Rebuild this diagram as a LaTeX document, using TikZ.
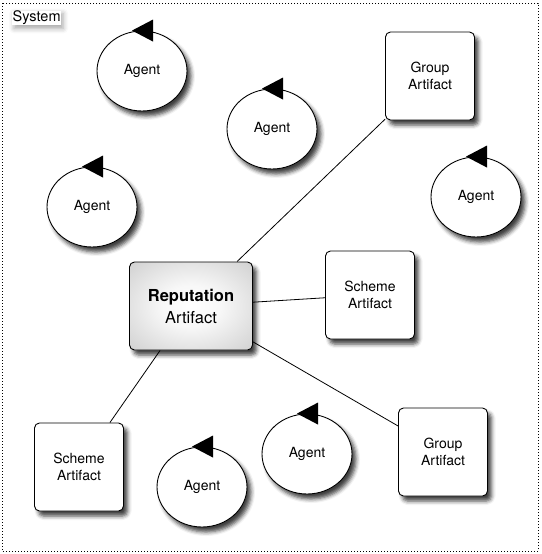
\documentclass[tikz,border=0pt]{standalone}
\usepackage{fontspec}
\setmainfont{TeX Gyre Heros}
\usetikzlibrary{shapes.geometric,shadows.blur}

\pgfdeclareradialshading{repshade}{\pgfpoint{0bp}{0bp}}{color(0bp)=(white); color(12bp)=(gray!6); color(50bp)=(gray!55); color(72bp)=(gray!75)}

\tikzset{agentnode/.style={ellipse, draw, line width=0.9pt, fill=white, minimum width=90pt, minimum height=80pt, inner sep=0pt, font=\fontsize{14}{17}\selectfont, blur shadow={shadow xshift=4pt, shadow yshift=-5pt, shadow blur radius=4pt, shadow opacity=75}}}
\tikzset{artifactnode/.style={rectangle, draw, line width=0.9pt, rounded corners=5pt, fill=white, minimum width=89pt, minimum height=88pt, inner sep=0pt, align=center, font=\fontsize{14}{17}\selectfont, blur shadow={shadow xshift=4pt, shadow yshift=-5pt, shadow blur radius=4pt, shadow opacity=75}}}
\tikzset{reputationnode/.style={artifactnode, minimum width=123pt, shading=repshade, font=\fontsize{16.5}{22}\selectfont}}
\tikzset{linkline/.style={line width=0.8pt}}

\begin{document}
\begin{tikzpicture}[x=1pt, y=-1pt]
		\useasboundingbox (0,0) rectangle (541,554);

		%system frame
		\draw[line width=0.8pt, dash pattern=on 1pt off 2pt] (2,3) rectangle (538,551);
		\node[anchor=west, fill=white, inner sep=0.5pt, font=\fontsize{14.5}{17}\selectfont, blur shadow={shadow xshift=2pt, shadow yshift=-3pt, shadow blur radius=5pt, shadow opacity=35}] (sys) at (12,18) {System};

		%agents
		\node[agentnode] (ag1) at (142,71) {Agent};
		\node[agentnode] (ag2) at (272,129) {Agent};
		\node[agentnode] (ag3) at (92,207) {Agent};
		\node[agentnode] (ag4) at (476,197) {Agent};
		\node[agentnode] (ag5) at (307,454) {Agent};
		\node[agentnode] (ag6) at (202,487) {Agent};

		\foreach \a in {ag1,ag2,ag3,ag4,ag5,ag6}
			\fill ([shift={(-10,0)}]\a.north) -- ([shift={(11,-11)}]\a.north) -- ([shift={(11,11)}]\a.north) -- cycle;

		%artifacts
		\node[reputationnode] (rep) at (191,306) {{\bfseries Reputation}\\Artifact};
		\node[artifactnode] (grpA) at (430,76) {Group\\Artifact};
		\node[artifactnode] (schA) at (370,295) {Scheme\\Artifact};
		\node[artifactnode] (schB) at (79,467) {Scheme\\Artifact};
		\node[artifactnode] (grpB) at (443,452) {Group\\Artifact};

		%links
		\draw[linkline] (rep) -- (grpA);
		\draw[linkline] (rep) -- (schA);
		\draw[linkline] (rep) -- (grpB);
		\draw[linkline] (rep) -- (schB);
	\end{tikzpicture}
\end{document}
